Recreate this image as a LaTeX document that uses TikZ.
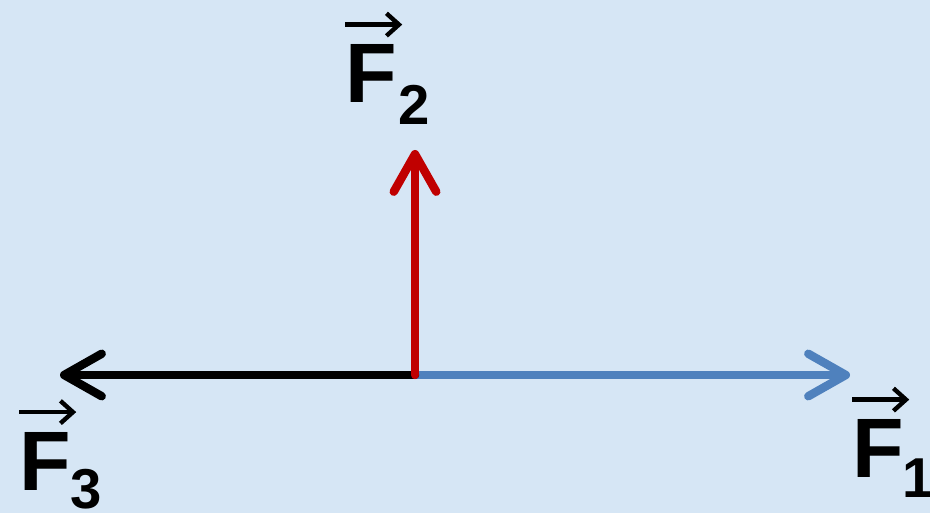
\documentclass[tikz,border=0pt]{standalone}
\usepackage{fontspec}
\setmainfont{Liberation Sans}
\usetikzlibrary{positioning,arrows.meta,calc}
\definecolor{paper}{HTML}{D6E6F5}
\definecolor{forcered}{HTML}{C00000}
\definecolor{forceblue}{HTML}{4F81BD}

\begin{document}
\begin{tikzpicture}[
          force/.style={line width=4.8pt, line cap=round,
                        -{Straight Barb[length=0.75cm, width=0.85cm, line cap=round, line join=round]}},
          vecbar/.style={line width=2.5pt,
                        -{Straight Barb[length=0.25cm, width=0.45cm]}},
          letter/.style={inner sep=0pt, anchor=base west,
                         font=\fontsize{48}{48}\selectfont\bfseries},
          index/.style={inner sep=0pt, anchor=base west,
                        font=\fontsize{32}{32}\selectfont\bfseries}]
        \fill[paper] (0,0) rectangle (18.6,10.26);
        \useasboundingbox (0,0) rectangle (18.6,10.26);

        \coordinate (o)  at (8.3,2.76);
        \coordinate (e1) at (17.0,2.76);
        \coordinate (e2) at (8.3,7.26);
        \coordinate (e3) at (1.2,2.76);

        \draw[force, color=forceblue] (o) -- (e1);
        \draw[force, color=black]     (o) -- (e3);
        \draw[force, color=forcered]  (o) -- (e2);

        % force labels
        \node[letter] (f2) at (6.9,8.2)  {F};
        \node[index]  (i2) at (7.96,7.76) {2};
        \node[letter] (f3) at (0.38,0.45) {F};
        \node[index]  (i3) at (1.4,0.08) {3};
        \node[letter] (f1) at (17.04,0.7) {F};
        \node[index]  (i1) at (18.05,0.3) {1};

        \draw[vecbar] ($(f2.north west)+(0,0.4)$) -- ($(f2.north east)+(0.1,0.4)$);
        \draw[vecbar] ($(f3.north west)+(0,0.4)$) -- ($(f3.north east)+(0.1,0.4)$);
        \draw[vecbar] ($(f1.north west)+(0,0.4)$) -- ($(f1.north east)+(0.1,0.4)$);
      \end{tikzpicture}
\end{document}
